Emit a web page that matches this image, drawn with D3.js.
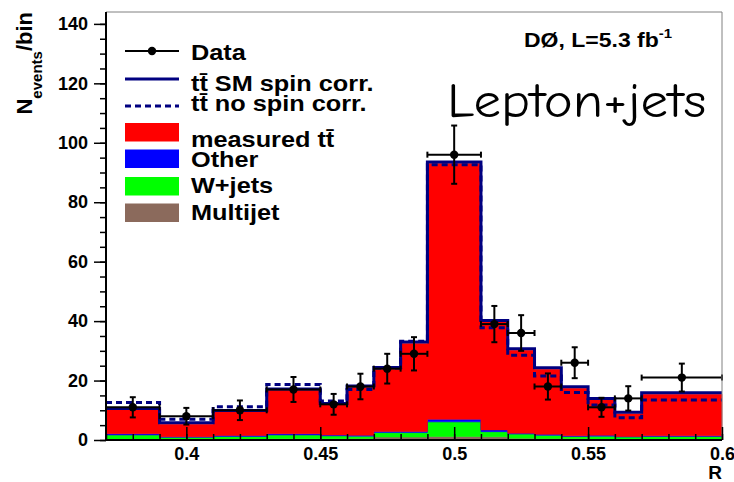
<!DOCTYPE html>
<html>
<head>
<meta charset="utf-8">
<script src="https://cdn.jsdelivr.net/npm/d3@7"></script>
<style>
  body { margin: 0; background: #fff; }
  svg { display: block; }
  text { font-family: "Liberation Sans", Arial, Helvetica, sans-serif; font-weight: bold; fill: #000; }
</style>
</head>
<body>
<svg id="chart" width="734" height="482"></svg>
<script>
// Variable-width bins in R
const binEdges = [0.37, 0.39, 0.41, 0.43, 0.45, 0.46, 0.47, 0.48, 0.49, 0.51, 0.52, 0.53, 0.54, 0.55, 0.56, 0.57, 0.60];

// Stacked contributions per bin (events)
const multijet   = [0.3, 0.3, 0.3, 0.4, 0.4, 0.5, 1.0, 1.0, 1.2, 1.1, 0.6, 0.5, 0.4, 0.3, 0.3, 0.3];
const wjets      = [1.4, 0.6, 0.9, 1.3, 1.0, 0.8, 1.5, 1.5, 4.9, 1.7, 1.4, 1.1, 0.8, 1.0, 0.7, 0.9];
const other      = [0.4, 0.2, 0.3, 0.4, 0.3, 0.3, 0.4, 0.4, 0.9, 0.6, 0.3, 0.3, 0.2, 0.3, 0.2, 0.2];
const ttMeasured = [8.0, 4.2, 7.9, 14.6, 10.1, 16.1, 20.8, 29.6, 86.0, 36.3, 27.9, 21.9, 16.0, 11.9, 7.6, 14.0];

// Total predictions: SM spin correlation and no spin correlation
const ttSpinSM = [10.6, 5.8, 9.9, 17.2, 12.3, 18.2, 24.4, 33.0, 93.5, 40.2, 30.7, 24.3, 17.9, 14.0, 9.3, 15.9];
const ttNoSpin = [12.6, 7.0, 11.2, 18.7, 13.1, 17.0, 24.2, 33.2, 92.6, 37.8, 28.5, 21.5, 16.0, 11.8, 7.5, 13.5];

// Observed data with statistical uncertainties
const dataCounts = [11, 8, 10, 17, 12, 18, 24, 29, 96, 39, 36, 18, 26, 11, 14, 21];
const dataErr    = [3.4, 2.8, 3.3, 4.2, 3.5, 4.3, 5.0, 5.6, 9.8, 6.1, 6.0, 4.4, 5.2, 3.2, 4.1, 4.7];

// Axis ticks
const yTicks = [0, 20, 40, 60, 80, 100, 120, 140];
const xTicks = [0.4, 0.45, 0.5, 0.55, 0.6];
const xTickLabels = ["0.4", "0.45", "0.5", "0.55", "0.6"];

const svg = d3.select("#chart");
const x = d3.scaleLinear().domain([0.37, 0.60]).range([106, 722]);
const y = d3.scaleLinear().domain([0, 144]).range([440, 12]);

const colors = { multijet: "#8b6a5c", wjets: "#00ff00", other: "#0000ff", tt: "#ff0000" };
const navy = "#000080";
const textStretch = 1.15;

// Stack the contributions
const bins = binEdges.slice(0, -1).map((lo, i) => ({
  lo, hi: binEdges[i + 1],
  multijet: multijet[i], wjets: wjets[i], other: other[i], tt: ttMeasured[i]
}));
const stacked = d3.stack().keys(["multijet", "wjets", "other", "tt"])(bins);

const stepArea = d3.area()
  .x(d => x(d.x)).y0(d => y(d.y0)).y1(d => y(d.y1));

const plot = svg.append("g");
stacked.forEach(layer => {
  const pts = [];
  layer.forEach((d, i) => {
    pts.push({ x: bins[i].lo, y0: d[0], y1: d[1] });
    pts.push({ x: bins[i].hi, y0: d[0], y1: d[1] });
  });
  plot.append("path")
    .attr("d", stepArea(pts))
    .attr("fill", colors[layer.key])
    .attr("stroke", colors[layer.key])
    .attr("stroke-width", 0.6);
});

// Step lines for the predictions
function stepPoints(vals) {
  const pts = [];
  vals.forEach((v, i) => { pts.push([binEdges[i], v]); pts.push([binEdges[i + 1], v]); });
  return pts;
}
const stepLine = d3.line().x(d => x(d[0])).y(d => y(d[1]));

plot.append("path")
  .attr("d", stepLine(stepPoints(ttSpinSM)))
  .attr("fill", "none").attr("stroke", navy).attr("stroke-width", 3);
plot.append("path")
  .attr("d", stepLine(stepPoints(ttNoSpin)))
  .attr("fill", "none").attr("stroke", navy).attr("stroke-width", 3)
  .attr("stroke-dasharray", "6,4");

// Data points with error bars
const dataG = svg.append("g").attr("stroke", "#000").attr("stroke-width", 2);
dataCounts.forEach((v, i) => {
  const lo = binEdges[i], hi = binEdges[i + 1];
  const cx = x((lo + hi) / 2), cy = y(v);
  const yTop = y(v + dataErr[i]), yBot = y(v - dataErr[i]);
  dataG.append("line").attr("x1", x(lo)).attr("x2", x(hi)).attr("y1", cy).attr("y2", cy);
  dataG.append("line").attr("x1", x(lo)).attr("x2", x(lo)).attr("y1", cy - 3).attr("y2", cy + 3);
  dataG.append("line").attr("x1", x(hi)).attr("x2", x(hi)).attr("y1", cy - 3).attr("y2", cy + 3);
  dataG.append("line").attr("x1", cx).attr("x2", cx).attr("y1", yTop).attr("y2", yBot);
  dataG.append("line").attr("x1", cx - 3).attr("x2", cx + 3).attr("y1", yTop).attr("y2", yTop);
  dataG.append("line").attr("x1", cx - 3).attr("x2", cx + 3).attr("y1", yBot).attr("y2", yBot);
  dataG.append("circle").attr("cx", cx).attr("cy", cy).attr("r", 4.2).attr("fill", "#000").attr("stroke", "none");
});

// Frame (top and right)
svg.append("line").attr("x1", 106).attr("x2", 722).attr("y1", 12).attr("y2", 12)
  .attr("stroke", "#808080").attr("stroke-width", 1);
svg.append("line").attr("x1", 722).attr("x2", 722).attr("y1", 12).attr("y2", 440)
  .attr("stroke", "#808080").attr("stroke-width", 1);

// Y axis
const yMinor = d3.range(0, 145, 5);
const yAxisMinor = svg.append("g").attr("transform", "translate(106,0)")
  .call(d3.axisLeft(y).tickValues(yMinor).tickSize(6).tickFormat(""));
const yAxis = svg.append("g").attr("transform", "translate(106,0)")
  .call(d3.axisLeft(y).tickValues(yTicks).tickSize(12).tickPadding(6).tickFormat(d3.format("d")));
[yAxisMinor, yAxis].forEach(g => {
  g.select(".domain").remove();
  g.selectAll("line").attr("stroke", "#000").attr("stroke-width", 1.5);
});
yAxis.selectAll("text").style("font-size", "18px").style("font-weight", "bold")
  .style("font-family", '"Liberation Sans", Arial, sans-serif');

// X axis (ticks point into the plot)
const xMinor = d3.range(37, 61).map(v => v / 100);
const xAxisMinor = svg.append("g").attr("transform", "translate(0,440)")
  .call(d3.axisBottom(x).tickValues(xMinor).tickSize(-6).tickFormat(""));
const xAxis = svg.append("g").attr("transform", "translate(0,440)")
  .call(d3.axisBottom(x).tickValues(xTicks).tickSize(-13).tickPadding(7)
    .tickFormat((d, i) => xTickLabels[i]));
[xAxisMinor, xAxis].forEach(g => {
  g.select(".domain").remove();
  g.selectAll("line").attr("stroke", "#000").attr("stroke-width", 1.5);
});
xAxis.selectAll("text").style("font-size", "18px").style("font-weight", "bold")
  .style("font-family", '"Liberation Sans", Arial, sans-serif');

svg.append("line").attr("x1", 106).attr("x2", 106).attr("y1", 12).attr("y2", 441)
  .attr("stroke", "#000").attr("stroke-width", 2);
svg.append("line").attr("x1", 105).attr("x2", 722).attr("y1", 440).attr("y2", 440)
  .attr("stroke", "#000").attr("stroke-width", 2);

// Axis titles
svg.append("text").attr("x", 722).attr("y", 479).attr("text-anchor", "end")
  .style("font-size", "19px").text("R");

const yTitle = svg.append("text")
  .attr("transform", "translate(32,12) rotate(-90)")
  .attr("text-anchor", "end");
yTitle.append("tspan").style("font-size", "22px").text("N");
yTitle.append("tspan").style("font-size", "15px").attr("dy", 10).text("events");
yTitle.append("tspan").style("font-size", "22px").attr("dy", -10).text("/bin");

// Legend
const legend = svg.append("g");
const lx0 = 125, lx1 = 179, ltx = 191;
function legendText(txt, baseline) {
  legend.append("text")
    .attr("transform", `translate(${ltx},${baseline}) scale(${textStretch},1)`)
    .style("font-size", "22px").text(txt);
}
legend.append("line").attr("x1", lx0).attr("x2", lx1).attr("y1", 51).attr("y2", 51)
  .attr("stroke", "#000").attr("stroke-width", 2);
legend.append("circle").attr("cx", (lx0 + lx1) / 2).attr("cy", 51).attr("r", 4.2).attr("fill", "#000");
legendText("Data", 60);

legend.append("line").attr("x1", lx0).attr("x2", lx1).attr("y1", 79).attr("y2", 79)
  .attr("stroke", navy).attr("stroke-width", 3);
legendText("tt\u0304 SM spin corr.", 91);

legend.append("line").attr("x1", lx0).attr("x2", lx1).attr("y1", 106).attr("y2", 106)
  .attr("stroke", navy).attr("stroke-width", 3).attr("stroke-dasharray", "6,4");
legendText("tt\u0304 no spin corr.", 111);

const boxes = [
  { key: "tt", label: "measured tt\u0304", top: 123, baseline: 147 },
  { key: "other", label: "Other", top: 149.5, baseline: 167 },
  { key: "wjets", label: "W+jets", top: 177, baseline: 193 },
  { key: "multijet", label: "Multijet", top: 203.5, baseline: 220 }
];
boxes.forEach(b => {
  legend.append("rect").attr("x", lx0).attr("y", b.top).attr("width", lx1 - lx0).attr("height", 18.5)
    .attr("fill", colors[b.key]);
  legendText(b.label, b.baseline);
});

// Experiment and luminosity
const lumi = svg.append("text")
  .attr("transform", `translate(524,47) scale(${textStretch},1)`)
  .style("font-size", "20px");
lumi.append("tspan").text("D\u00d8, L=5.3 fb");
lumi.append("tspan").style("font-size", "13px").attr("dy", -9).text("-1");

// Channel label
svg.append("text")
  .attr("transform", `translate(447,117) scale(1.12,1)`)
  .style("font-family", '"Comic Sans MS", "Comic Neue", "DejaVu Sans", sans-serif')
  .style("font-weight", "normal").style("font-size", "49px")
  .text("Lepton+jets");
</script>
</body>
</html>
